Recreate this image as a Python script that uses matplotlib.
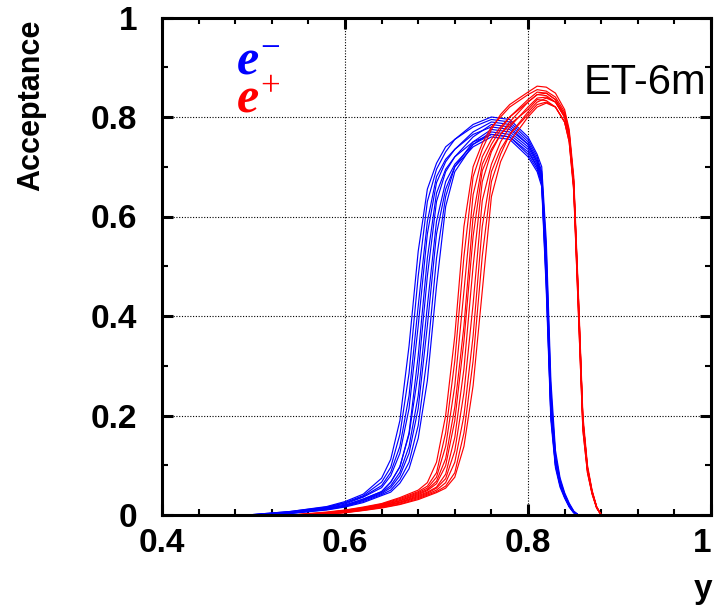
import matplotlib
matplotlib.use("Agg")
import matplotlib.pyplot as plt
from matplotlib import font_manager
from matplotlib.ticker import MultipleLocator

# ---------------- data ----------------
# e- acceptance curves (10 samples), shared y grid
y_minus = [0.50, 0.54, 0.58, 0.60, 0.62, 0.64, 0.65, 0.66, 0.67, 0.68, 0.69, 0.70, 0.71, 0.72,
           0.74, 0.76, 0.78, 0.80, 0.81, 0.815, 0.82, 0.825, 0.83, 0.835, 0.84, 0.845, 0.85, 0.855]
acc_minus = [
    [0.001, 0.007, 0.017, 0.027, 0.042, 0.074, 0.112, 0.19, 0.34, 0.53, 0.655, 0.707, 0.74, 0.755,
     0.78, 0.795, 0.79, 0.755, 0.72, 0.69, 0.52, 0.24, 0.12, 0.07, 0.042, 0.022, 0.007, 0.0],
    [0.001, 0.007, 0.016, 0.025, 0.039, 0.066, 0.096, 0.162, 0.285, 0.48, 0.63, 0.695, 0.73, 0.755,
     0.785, 0.80, 0.795, 0.76, 0.725, 0.70, 0.55, 0.27, 0.13, 0.075, 0.045, 0.024, 0.008, 0.0],
    [0.0006, 0.006, 0.015, 0.024, 0.037, 0.059, 0.086, 0.138, 0.24, 0.42, 0.59, 0.68, 0.715, 0.735,
     0.765, 0.78, 0.775, 0.745, 0.71, 0.68, 0.50, 0.22, 0.11, 0.065, 0.04, 0.02, 0.006, 0.0],
    [0.0004, 0.006, 0.014, 0.022, 0.036, 0.055, 0.079, 0.124, 0.214, 0.38, 0.565, 0.668, 0.71, 0.735,
     0.77, 0.79, 0.785, 0.75, 0.715, 0.685, 0.53, 0.25, 0.12, 0.07, 0.042, 0.021, 0.007, 0.0],
    [0.0, 0.005, 0.013, 0.020, 0.032, 0.047, 0.066, 0.097, 0.165, 0.32, 0.516, 0.647, 0.695, 0.72,
     0.75, 0.765, 0.76, 0.73, 0.70, 0.67, 0.48, 0.21, 0.105, 0.062, 0.038, 0.018, 0.005, 0.0],
    [0.0, 0.005, 0.013, 0.019, 0.032, 0.047, 0.066, 0.097, 0.162, 0.285, 0.48, 0.63, 0.69, 0.72,
     0.76, 0.785, 0.78, 0.745, 0.71, 0.68, 0.51, 0.23, 0.11, 0.066, 0.04, 0.02, 0.006, 0.0],
    [0.0, 0.004, 0.012, 0.018, 0.030, 0.045, 0.059, 0.086, 0.138, 0.24, 0.42, 0.59, 0.67, 0.705,
     0.745, 0.77, 0.765, 0.735, 0.70, 0.67, 0.47, 0.20, 0.10, 0.06, 0.036, 0.017, 0.005, 0.0],
    [0.0, 0.004, 0.012, 0.018, 0.029, 0.043, 0.055, 0.079, 0.124, 0.214, 0.38, 0.565, 0.655, 0.70,
     0.74, 0.76, 0.755, 0.72, 0.69, 0.66, 0.45, 0.19, 0.095, 0.056, 0.034, 0.016, 0.004, 0.0],
    [0.0, 0.003, 0.011, 0.017, 0.027, 0.041, 0.050, 0.071, 0.106, 0.18, 0.32, 0.516, 0.64, 0.70,
     0.75, 0.775, 0.77, 0.74, 0.705, 0.675, 0.49, 0.215, 0.105, 0.063, 0.038, 0.019, 0.006, 0.0],
    [0.0, 0.003, 0.010, 0.016, 0.025, 0.039, 0.046, 0.064, 0.093, 0.154, 0.27, 0.46, 0.62, 0.69,
     0.745, 0.765, 0.76, 0.725, 0.695, 0.665, 0.46, 0.20, 0.10, 0.06, 0.036, 0.017, 0.005, 0.0],
]

# e+ acceptance curves (10 samples), shared y grid
y_plus = [0.55, 0.58, 0.60, 0.62, 0.64, 0.66, 0.68, 0.69, 0.70, 0.71, 0.72, 0.73, 0.74, 0.75,
          0.76, 0.77, 0.78, 0.80, 0.81, 0.82, 0.83, 0.84, 0.845, 0.85, 0.855, 0.86, 0.865, 0.87,
          0.875, 0.88]
acc_plus = [
    [0.0013, 0.006, 0.010, 0.016, 0.023, 0.035, 0.050, 0.065, 0.106, 0.20, 0.36, 0.58, 0.70, 0.747,
     0.78, 0.80, 0.82, 0.845, 0.855, 0.852, 0.84, 0.81, 0.77, 0.67, 0.43, 0.19, 0.095, 0.048, 0.016, 0.0],
    [0.001, 0.005, 0.0095, 0.015, 0.022, 0.033, 0.047, 0.058, 0.085, 0.165, 0.31, 0.52, 0.68, 0.735,
     0.775, 0.805, 0.825, 0.85, 0.862, 0.86, 0.848, 0.815, 0.775, 0.68, 0.45, 0.20, 0.10, 0.05, 0.017, 0.0],
    [0.001, 0.0045, 0.009, 0.014, 0.021, 0.031, 0.045, 0.054, 0.076, 0.138, 0.26, 0.45, 0.644, 0.72,
     0.755, 0.78, 0.80, 0.83, 0.845, 0.843, 0.83, 0.80, 0.76, 0.66, 0.42, 0.18, 0.09, 0.045, 0.015, 0.0],
    [0.0008, 0.004, 0.008, 0.013, 0.020, 0.029, 0.043, 0.051, 0.068, 0.113, 0.217, 0.38, 0.60, 0.705,
     0.745, 0.775, 0.80, 0.835, 0.85, 0.848, 0.835, 0.805, 0.765, 0.665, 0.44, 0.19, 0.092, 0.046, 0.016, 0.0],
    [0.0006, 0.0035, 0.0075, 0.0125, 0.019, 0.028, 0.041, 0.049, 0.063, 0.099, 0.19, 0.35, 0.56, 0.692,
     0.735, 0.765, 0.785, 0.815, 0.835, 0.833, 0.82, 0.79, 0.75, 0.655, 0.41, 0.17, 0.085, 0.042, 0.014, 0.0],
    [0.0004, 0.003, 0.007, 0.012, 0.018, 0.026, 0.039, 0.046, 0.056, 0.082, 0.156, 0.294, 0.50, 0.67,
     0.73, 0.765, 0.79, 0.83, 0.845, 0.848, 0.835, 0.805, 0.765, 0.67, 0.44, 0.19, 0.095, 0.047, 0.016, 0.0],
    [0.0003, 0.0027, 0.006, 0.011, 0.017, 0.025, 0.037, 0.044, 0.054, 0.073, 0.129, 0.246, 0.424, 0.632,
     0.705, 0.75, 0.78, 0.82, 0.838, 0.84, 0.83, 0.80, 0.76, 0.66, 0.43, 0.185, 0.09, 0.045, 0.015, 0.0],
    [0.0002, 0.0024, 0.0055, 0.010, 0.016, 0.024, 0.035, 0.042, 0.050, 0.065, 0.106, 0.20, 0.36, 0.58,
     0.69, 0.735, 0.765, 0.805, 0.825, 0.83, 0.82, 0.79, 0.75, 0.65, 0.41, 0.17, 0.085, 0.043, 0.014, 0.0],
    [0.0001, 0.002, 0.005, 0.0095, 0.015, 0.022, 0.033, 0.040, 0.047, 0.058, 0.085, 0.165, 0.31, 0.52,
     0.67, 0.725, 0.765, 0.81, 0.83, 0.838, 0.83, 0.80, 0.765, 0.67, 0.44, 0.19, 0.095, 0.047, 0.016, 0.0],
    [0.0, 0.0017, 0.0045, 0.009, 0.014, 0.021, 0.031, 0.038, 0.045, 0.054, 0.076, 0.138, 0.26, 0.45,
     0.64, 0.71, 0.75, 0.80, 0.82, 0.828, 0.82, 0.79, 0.755, 0.66, 0.43, 0.18, 0.09, 0.045, 0.015, 0.0],
]

x_ticks = [0.4, 0.6, 0.8, 1.0]
x_ticklabels = ["0.4", "0.6", "0.8", "1"]
y_ticks = [0, 0.2, 0.4, 0.6, 0.8, 1.0]
y_ticklabels = ["0", "0.2", "0.4", "0.6", "0.8", "1"]

# ---------------- fonts ----------------
installed = {f.name for f in font_manager.fontManager.ttflist}
narrow = "Liberation Sans Narrow" if "Liberation Sans Narrow" in installed else "Liberation Sans"
plt.rcParams["mathtext.fontset"] = "custom"
plt.rcParams["mathtext.it"] = "Liberation Serif:italic:bold"
plt.rcParams["mathtext.rm"] = "Liberation Serif"

W, H = 718, 607
fig = plt.figure(figsize=(W / 100, H / 100), dpi=100)
ax = fig.add_axes([162 / W, 1 - 515 / H, (711 - 162) / W, (515 - 17.5) / H])

for ys in acc_minus:
    ax.plot(y_minus, ys, color="#0000ff", lw=0.85)
for ys in acc_plus:
    ax.plot(y_plus, ys, color="#ff0000", lw=0.85)

ax.set_xlim(0.4, 1.0)
ax.set_ylim(0.0, 1.0)
ax.set_xticks(x_ticks)
ax.set_xticklabels(x_ticklabels)
ax.set_yticks(y_ticks)
ax.set_yticklabels(y_ticklabels)
ax.xaxis.set_minor_locator(MultipleLocator(0.04))
ax.yaxis.set_minor_locator(MultipleLocator(0.1))

ax.grid(True, which="major", color="black", linestyle=(0, (1, 1.5)), linewidth=0.8)
ax.set_axisbelow(True)

for s in ax.spines.values():
    s.set_linewidth(2.2)

ax.tick_params(which="both", direction="in", top=True, right=True)
ax.tick_params(which="major", length=8, width=2.2)
ax.tick_params(which="minor", length=4.5, width=1.5)
ax.tick_params(axis="x", which="major", pad=9)
ax.tick_params(axis="y", which="major", pad=18)
for lab in ax.get_xticklabels() + ax.get_yticklabels():
    lab.set_fontfamily(narrow)
    lab.set_fontweight("bold")
    lab.set_fontsize(24)
# keep the last x label inside the canvas
ax.get_xticklabels()[-1].set_horizontalalignment("right")
ax.get_xticklabels()[-1].set_x(1.0)

fig.text(31 / W, 1 - 20 / H, "Acceptance", rotation=90, ha="center", va="top",
         fontfamily="Liberation Sans", fontweight="bold", fontsize=22)
fig.text(712 / W, 1 - 598 / H, "y", ha="right", va="baseline",
         fontfamily=narrow, fontweight="bold", fontsize=24)

fig.text(706 / W, 1 - 94 / H, "ET-6m", ha="right", va="baseline",
         fontfamily="Liberation Sans", fontsize=30)
fig.text(236 / W, 1 - 75 / H, r"$e^{-}$", ha="left", va="baseline",
         color="#0000ff", fontsize=36)
fig.text(236 / W, 1 - 113 / H, r"$e^{+}$", ha="left", va="baseline",
         color="#ff0000", fontsize=36)

fig.savefig("out.png", dpi=100)
